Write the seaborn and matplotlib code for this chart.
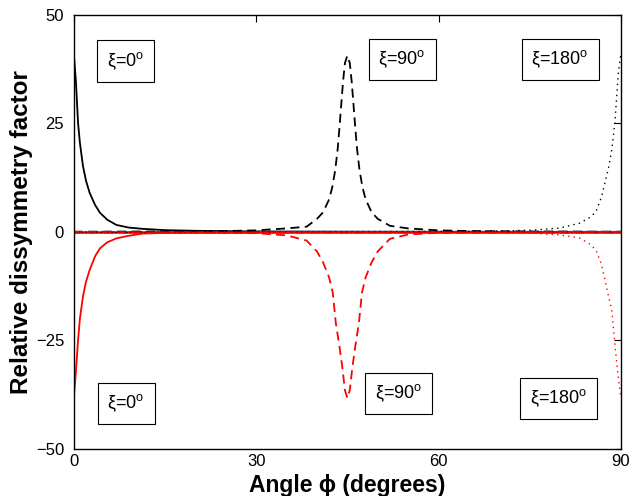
import numpy as np
import pandas as pd
import matplotlib
matplotlib.use("Agg")
import matplotlib.pyplot as plt
import seaborn as sns

# Values
# xi = 0 deg (solid)
x_solid = [0, 0.35, 0.7, 1.0, 1.5, 2.0, 2.6, 3.5, 4.3, 5.5, 7.0, 9.0, 11.3, 15, 20, 30, 45, 60, 90]
y_solid_black = [41, 34.5, 25, 20.5, 15.2, 11.8, 9.0, 6.2, 4.4, 2.8, 1.6, 1.0, 0.7, 0.4, 0.25, 0.1, 0.05, 0.03, 0.01]
y_solid_red = [-38.3, -32, -24.9, -20, -14.9, -11.5, -8.8, -5.6, -3.8, -2.4, -1.5, -0.9, -0.4, -0.2, -0.1, -0.05, -0.03, -0.02, -0.01]

# xi = 90 deg (dashed)
x_dash_black = [0, 15, 25, 30, 35, 38.3, 40, 41, 42, 42.5, 43, 43.4, 43.7, 44.0, 44.3, 44.6, 45,
                45.4, 45.7, 46.0, 46.3, 46.6, 47, 47.5, 48, 49, 50, 52, 55, 60, 65, 75, 90]
y_dash_black = [0.04, 0.1, 0.2, 0.35, 0.8, 1.2, 3.0, 4.5, 7.5, 10.2, 14.2, 19.0, 24.0, 29.5, 34.8, 38.9, 40.6,
                38.9, 34.8, 29.5, 24.0, 19.0, 14.2, 10.2, 7.5, 4.5, 3.0, 1.4, 0.8, 0.35, 0.2, 0.09, 0.04]
x_dash_red = [0, 15, 25, 30, 35, 38.3, 40, 41, 42, 42.6, 43.1, 43.7, 44.2, 44.6, 45,
              45.4, 45.8, 46.3, 46.9, 47.4, 48, 49, 50, 52, 55, 60, 65, 75, 90]
y_dash_red = [0, -0.1, -0.2, -0.3, -0.8, -2.0, -4.5, -7.0, -10.5, -14, -21, -26.4, -31.5, -36.5, -38.3,
              -36.5, -31.5, -26.4, -21, -14, -10.5, -7.0, -4.5, -1.6, -0.6, -0.2, -0.1, -0.05, 0]

# xi = 180 deg (dotted)
x_dot = [0, 30, 60, 70, 75.5, 80, 83.2, 85, 85.9, 86.8, 87.5, 88.0, 88.5, 89.0, 89.3, 89.6, 90]
y_dot_black = [0, 0.02, 0.1, 0.2, 0.4, 0.9, 2.0, 3.4, 4.7, 8.0, 12, 15, 19, 25, 31, 37, 41]
y_dot_red = [0, -0.02, -0.08, -0.15, -0.3, -0.7, -1.4, -2.9, -4.2, -7.5, -11.8, -15, -18, -25.7, -30, -34, -38]

# zero-valued curves along the axis
x_zero = [0, 90]
y_zero = [0, 0]

labels_top = ["ξ=0$^{\\mathrm{o}}$", "ξ=90$^{\\mathrm{o}}$", "ξ=180$^{\\mathrm{o}}$"]
labels_top_x = [8.5, 54.0, 80.0]
labels_top_y = [39.4, 39.7, 39.7]
labels_bot_x = [8.6, 53.4, 79.7]
labels_bot_y = [-39.6, -37.2, -38.4]

sns.set_theme(style="white")
plt.rcParams['font.family'] = ['Liberation Sans', 'DejaVu Sans']
plt.rcParams['mathtext.fontset'] = 'custom'
plt.rcParams['mathtext.rm'] = 'Liberation Sans'
plt.rcParams['text.color'] = 'black'
plt.rcParams['axes.labelcolor'] = 'black'

fig = plt.figure(figsize=(6.31, 4.96), dpi=100)
ax = fig.add_axes([0.117, 0.095, 0.867, 0.875])

sns.lineplot(x=x_zero, y=y_zero, ax=ax, color='red', linewidth=1.8, estimator=None)
sns.lineplot(x=x_zero, y=y_zero, ax=ax, color='black', linewidth=1.0, linestyle='-.', estimator=None)

sns.lineplot(x=x_solid, y=y_solid_black, ax=ax, color='black', linewidth=1.3, estimator=None, sort=False)
sns.lineplot(x=x_solid, y=y_solid_red, ax=ax, color='red', linewidth=1.3, estimator=None, sort=False)

sns.lineplot(x=x_dash_black, y=y_dash_black, ax=ax, color='black', linewidth=1.3,
             estimator=None, sort=False)
ax.lines[-1].set_dashes((5, 3))
sns.lineplot(x=x_dash_red, y=y_dash_red, ax=ax, color='red', linewidth=1.3,
             estimator=None, sort=False)
ax.lines[-1].set_dashes((5, 3))

sns.lineplot(x=x_dot, y=y_dot_black, ax=ax, color='black', linewidth=1.0, estimator=None, sort=False)
ax.lines[-1].set_dashes((1, 3))
sns.lineplot(x=x_dot, y=y_dot_red, ax=ax, color='red', linewidth=1.0, estimator=None, sort=False)
ax.lines[-1].set_dashes((1, 3))

box = dict(boxstyle='square,pad=0.55', facecolor='white', edgecolor='black', linewidth=0.8)
for t, xx, yy in zip(labels_top, labels_top_x, labels_top_y):
    ax.text(xx, yy, t, ha='center', va='center', fontsize=13, bbox=box)
for t, xx, yy in zip(labels_top, labels_bot_x, labels_bot_y):
    ax.text(xx, yy, t, ha='center', va='center', fontsize=13, bbox=box)

ax.set_xlim(0, 90)
ax.set_ylim(-50, 50)
ax.set_xticks([0, 30, 60, 90])
ax.set_yticks([-50, -25, 0, 25, 50])
ax.set_yticklabels(['\u221250', '\u221225', '0', '25', '50'])
ax.tick_params(direction='in', length=5, width=0.8, top=True, right=True,
               labelsize=12, colors='black')
ax.tick_params(axis='x', pad=4)
ax.tick_params(axis='y', pad=7)
for s in ax.spines.values():
    s.set_color('black')
    s.set_linewidth(1.0)

ax.set_xlabel('Angle ϕ (degrees)', fontsize=16.5, fontweight='bold', labelpad=3)
ax.set_ylabel('Relative dissymmetry factor', fontsize=17.5, fontweight='bold', labelpad=2)

fig.savefig('out.png', dpi=100)
